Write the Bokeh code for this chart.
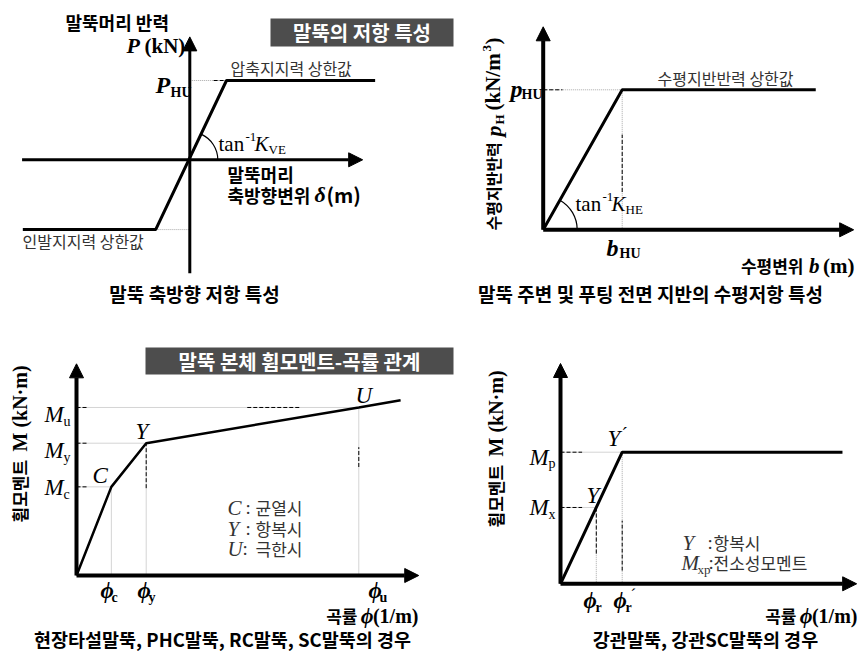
import math
from bokeh.plotting import figure
from bokeh.models import Range1d, Arrow, NormalHead
from bokeh.core.properties import value
from bokeh.embed import file_html
from bokeh.resources import INLINE

# ---------------- data (normalised, schematic) ----------------
# Panel A: pile-head axial resistance (delta/delta_HU, P/P_HU)
axial_disp = [-4.55, -0.93, 1.0, 5.05]
axial_load = [-0.88, -0.88, 1.0, 1.0]
axial_axis_x = [-4.57, 4.71]
axial_axis_y = [-1.43, 1.55]

# Panel B: horizontal subgrade reaction (b/b_HU, p/p_HU)
lateral_disp = [0.0, 1.0, 3.45]
lateral_pres = [0.0, 1.0, 1.0]
lateral_axis_x = [0.0, 3.93]
lateral_axis_y = [0.0, 1.45]

# Panel C: RC / PHC / SC pile moment-curvature (phi/phi_y, M/M_y)
rc_curv = [0.0, 0.5, 1.0, 4.05, 4.65]
rc_moment = [0.0, 0.67, 1.0, 1.27, 1.325]
rc_axis_x = [0.0, 4.91]
rc_axis_y = [0.0, 1.6]

# Panel D: steel pipe pile moment-curvature (phi/phi_r', M/M_p)
steel_curv = [0.0, 1.0, 4.57]
steel_moment = [0.0, 1.0, 1.0]
steel_yield = [0.58, 0.58]   # (phi_r, M_x)
steel_axis_x = [0.0, 4.8]
steel_axis_y = [0.0, 1.674]

SANS = "Noto Sans CJK KR"
SERIF = "Liberation Serif"
GRAY = "#a8a8a8"
TXT = "#333333"
PHI = "\u03d5"

W, H = 859, 653
p = figure(width=W, height=H, x_range=Range1d(0, W), y_range=Range1d(H, 0),
           x_axis_type=None, y_axis_type=None, toolbar_location=None,
           output_backend="svg", min_border=0)
p.outline_line_color = None
p.background_fill_color = "white"
p.border_fill_color = "white"

# panel placement: origin (page px) and px per unit
panels = {
    "A": (189.3, 159.3, 36.7, 79.3),
    "B": (542.7, 229.3, 79.0, 140.0),
    "C": (76.0, 575.0, 69.7, 132.3),
    "D": (560.0, 583.3, 61.7, 131.6),
}
for name, (ox, oy, sx, sy) in panels.items():
    p.extra_x_ranges[name] = Range1d((0 - ox) / sx, (W - ox) / sx)
    p.extra_y_ranges[name] = Range1d((oy - H) / sy, (oy - 0) / sy)


def axis_arrow(name, x0, y0, x1, y1, lw):
    p.add_layout(Arrow(end=NormalHead(size=14, fill_color="black", line_color="black", line_width=1),
                       x_start=x0, y_start=y0, x_end=x1, y_end=y1, line_width=lw,
                       line_color="black", x_range_name=name, y_range_name=name))


def seg(name, x0, y0, x1, y1, kind="gray"):
    if kind == "gray":
        p.segment(x0=[x0], y0=[y0], x1=[x1], y1=[y1], line_color=GRAY, line_width=1,
                  line_dash="1 1", x_range_name=name, y_range_name=name)
    else:
        p.segment(x0=[x0], y0=[y0], x1=[x1], y1=[y1], line_color="black", line_width=1,
                  line_dash="4 2", x_range_name=name, y_range_name=name)


def t(x, y, s, size=16, font=SANS, style="normal", color="black", align="left",
      baseline="middle", angle=0.0):
    p.text(x=[x], y=[y], text=[s], text_font=value(font), text_font_size=f"{size}px",
           text_font_style=style, text_color=color, text_align=align,
           text_baseline=baseline, angle=angle)


def arc(name, radius, slope_x, slope_y):
    ox, oy, sx, sy = panels[name]
    ang = math.atan2(slope_y * sy, slope_x * sx)
    p.arc(x=[0], y=[0], radius=radius, radius_units="screen", start_angle=0, end_angle=ang,
          direction="anticlock", line_color="black", line_width=1.2,
          x_range_name=name, y_range_name=name)

# ---------------- Panel A ----------------
seg("A", 0, axial_load[2], axial_disp[2], axial_load[2])
seg("A", 0.65, axial_load[2], axial_disp[2], axial_load[2], "black")
seg("A", axial_disp[1], axial_load[1], 0, axial_load[1])
axis_arrow("A", axial_axis_x[0], 0, axial_axis_x[1], 0, 3)
axis_arrow("A", 0, axial_axis_y[0], 0, axial_axis_y[1], 3)
p.line(x=axial_disp, y=axial_load, line_color="black", line_width=3,
       x_range_name="A", y_range_name="A")
arc("A", 28, axial_disp[2], axial_load[2])

t(65, 21, "말뚝머리 반력", 18, style="bold")
t(126, 45, "P", 22, SERIF, "bold italic")
t(144, 45, "(kN)", 21, SERIF, "bold")
t(155, 84, "P", 24, SERIF, "bold italic")
t(170, 92, "HU", 14, SERIF, "bold")
t(230, 67, "압축지지력 상한값", 16, color=TXT)
t(218, 143, "tan", 21, SERIF)
t(245, 136, "-1", 13, SERIF)
t(254, 143, "K", 21, SERIF, "italic")
t(268, 149, "VE", 13, SERIF)
t(227, 173, "말뚝머리", 18, style="bold")
t(227, 194, "축방향변위", 18, style="bold")
t(314, 194, "δ", 22, SERIF, "bold italic")
t(326, 194, "(m)", 20, style="bold")
t(22, 240, "인발지지력 상한값", 16, color=TXT)
t(194, 293, "말뚝 축방향 저항 특성", 19, style="bold", align="center")

p.quad(left=[270], right=[453], top=[18], bottom=[46], fill_color="#4d4d4d", line_color=None)
t(361.5, 32, "말뚝의 저항 특성", 20, style="bold", color="white", align="center")

# ---------------- Panel B ----------------
seg("B", 0, lateral_pres[1], lateral_disp[1], lateral_pres[1])
seg("B", 0, lateral_pres[1], 0.245, lateral_pres[1], "black")
seg("B", lateral_disp[1], 0, lateral_disp[1], lateral_pres[1])
seg("B", lateral_disp[1], 0.27, lateral_disp[1], 0.68, "black")
axis_arrow("B", lateral_axis_x[0], 0, lateral_axis_x[1], 0, 4)
axis_arrow("B", 0, lateral_axis_y[0], 0, lateral_axis_y[1], 4)
p.line(x=lateral_disp, y=lateral_pres, line_color="black", line_width=3,
       x_range_name="B", y_range_name="B")
arc("B", 34, lateral_disp[1], lateral_pres[1])

R = math.pi / 2
t(492, 230, "수평지반반력", 16, style="bold", angle=R)
t(493, 136, "p", 22, SERIF, "bold italic", angle=R)
t(499, 124, "H", 13, SERIF, "bold", angle=R)
t(492, 110, "(kN/m", 21, SERIF, "bold", angle=R)
t(486, 51, "3", 13, SERIF, "bold", angle=R)
t(492, 44, ")", 21, SERIF, "bold", angle=R)

t(510, 88, "p", 24, SERIF, "bold italic")
t(521, 94, "HU", 14, SERIF, "bold")
t(657, 77, "수평지반반력 상한값", 16, color=TXT)
t(575, 203, "tan", 21, SERIF)
t(602, 196, "-1", 13, SERIF)
t(611, 203, "K", 21, SERIF, "italic")
t(625, 209, "HE", 13, SERIF)
t(606, 247, "b", 24, SERIF, "bold italic")
t(619, 253, "HU", 14, SERIF, "bold")
t(854, 265, "(m)", 21, SERIF, "bold", align="right")
t(819, 265, "b", 21, SERIF, "bold italic", align="right")
t(803, 265, "수평변위", 17, style="bold", align="right")
t(650, 293, "말뚝 주변 및 푸팅 전면 지반의 수평저항 특성", 19, style="bold", align="center")

# ---------------- Panel C ----------------
phi_c, phi_y, phi_u = rc_curv[1], rc_curv[2], rc_curv[3]
M_c, M_y, M_u = rc_moment[1], rc_moment[2], rc_moment[3]
for (xx, yy) in [(phi_u, M_u), (phi_y, M_y), (phi_c, M_c)]:
    seg("C", 0, yy, xx, yy)
    seg("C", 0, yy, 0.17, yy, "black")
    seg("C", xx, 0, xx, yy)
seg("C", 2.45, M_u, 3.2, M_u, "black")
seg("C", phi_y, 0.66, phi_y, M_y, "black")
seg("C", phi_u, 0.82, phi_u, 0.97, "black")
axis_arrow("C", rc_axis_x[0], 0, rc_axis_x[1], 0, 4)
axis_arrow("C", 0, rc_axis_y[0], 0, rc_axis_y[1], 4)
p.line(x=rc_curv, y=rc_moment, line_color="black", line_width=2.5,
       x_range_name="C", y_range_name="C")

t(19, 522, "휨모멘트", 17, style="bold", angle=R)
t(19, 451, "M (kN·m)", 20, SERIF, "bold", angle=R)
for (yy, sub) in [(414, "u"), (450, "y"), (487, "c")]:
    t(44, yy, "M", 23, SERIF, "italic")
    t(63, yy + 7, sub, 14, SERIF)
t(92, 475, "C", 23, SERIF, "italic")
t(135, 431, "Y", 23, SERIF, "italic")
t(355, 395, "U", 23, SERIF, "italic")
for (yy, letter, colon_x, word) in [(507, "C", 245, "균열시"), (528, "Y", 245, "항복시"),
                                    (548, "U", 242, "극한시")]:
    t(227, yy, letter, 21, SERIF, "italic", color=TXT)
    t(colon_x, yy, ":", 19, SERIF, color=TXT)
    t(255, yy, word, 17, color=TXT)
for (xx, sub) in [(100, "c"), (137, "y"), (368, "u")]:
    t(xx, 590, PHI, 23, SERIF, "bold italic")
    t(xx + 11, 597, sub, 14, SERIF, "bold")
t(418, 615, "(1/m)", 20, SERIF, "bold", align="right")
t(373, 615, PHI, 22, SERIF, "bold italic", align="right")
t(357, 615, "곡률", 17, style="bold", align="right")
t(222, 638, "현장타설말뚝, PHC말뚝, RC말뚝, SC말뚝의 경우", 18.5, style="bold", align="center")

p.quad(left=[145], right=[453], top=[347], bottom=[374], fill_color="#4d4d4d", line_color=None)
t(299, 361, "말뚝 본체 휨모멘트-곡률 관계", 20, style="bold", color="white", align="center")

# ---------------- Panel D ----------------
phi_r, M_x = steel_yield
seg("D", 0, steel_moment[1], steel_curv[1], steel_moment[1])
seg("D", 0, steel_moment[1], 0.35, steel_moment[1], "black")
seg("D", 0, M_x, phi_r, M_x)
seg("D", 0, M_x, 0.35, M_x, "black")
seg("D", phi_r, 0, phi_r, M_x)
seg("D", phi_r, 0.23, phi_r, M_x, "black")
seg("D", steel_curv[1], 0, steel_curv[1], steel_moment[1])
seg("D", steel_curv[1], 0.1, steel_curv[1], 0.48, "black")
axis_arrow("D", steel_axis_x[0], 0, steel_axis_x[1], 0, 4)
axis_arrow("D", 0, steel_axis_y[0], 0, steel_axis_y[1], 4)
p.line(x=steel_curv, y=steel_moment, line_color="black", line_width=3,
       x_range_name="D", y_range_name="D")

t(495, 527, "휨모멘트", 17, style="bold", angle=R)
t(495, 456, "M (kN·m)", 20, SERIF, "bold", angle=R)
t(529, 457, "M", 23, SERIF, "italic")
t(548, 463, "p", 14, SERIF)
t(529, 507, "M", 23, SERIF, "italic")
t(548, 514, "x", 14, SERIF)
t(607, 438, "Y", 23, SERIF, "italic")
t(621, 433, "´", 19, SERIF)
t(586, 495, "Y", 23, SERIF, "italic")
t(682, 542, "Y", 21, SERIF, "italic", color=TXT)
t(707, 542, ":", 19, SERIF, color=TXT)
t(713, 542, "항복시", 17, color=TXT)
t(681, 562, "M", 21, SERIF, "italic", color=TXT)
t(697, 569, "xp", 13, SERIF, color=TXT)
t(708, 562, ":", 19, SERIF, color=TXT)
t(713, 562, "전소성모멘트", 17, color=TXT)
t(583, 600, PHI, 23, SERIF, "bold italic")
t(595, 607, "r", 14, SERIF, "bold")
t(613, 600, PHI, 23, SERIF, "bold italic")
t(625, 607, "r", 14, SERIF, "bold")
t(630, 594, "´", 17, SERIF)
t(857, 615, "(1/m)", 20, SERIF, "bold", align="right")
t(812, 615, PHI, 22, SERIF, "bold italic", align="right")
t(796, 615, "곡률", 17, style="bold", align="right")
t(705, 638, "강관말뚝, 강관SC말뚝의 경우", 18.5, style="bold", align="center")

open("out.html", "w").write(file_html(p, INLINE))
